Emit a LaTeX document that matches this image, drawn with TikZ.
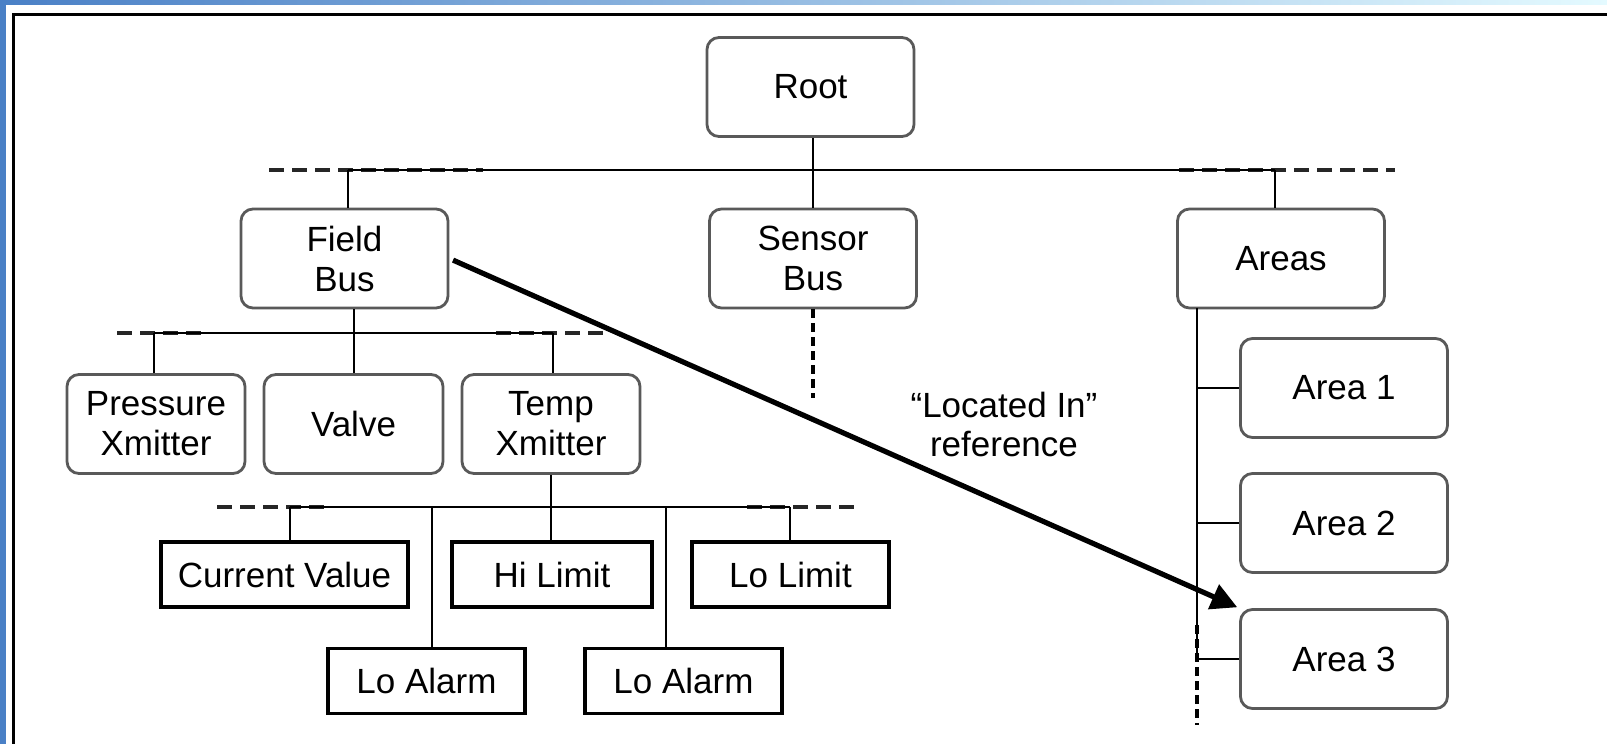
\documentclass[tikz,border=0pt]{standalone}
\usepackage{fontspec}
\setmainfont{Liberation Sans}
\usetikzlibrary{arrows.meta,calc}
\definecolor{bluea}{RGB}{74,128,198}
\definecolor{blueb}{RGB}{140,192,250}
\definecolor{bluec}{RGB}{228,250,255}
\begin{document}
\begin{tikzpicture}[x=0.5pt,y=-0.5pt,
  rbox/.style={draw=black!65, line width=1.4pt, rounded corners=6pt, fill=white, inner sep=0pt,
    font=\fontsize{17.5}{20}\selectfont, align=center, minimum width=103.5pt, minimum height=49.5pt},
  sbox/.style={draw=black, line width=1.7pt, fill=white, inner sep=0pt,
    font=\fontsize{17.5}{20}\selectfont, minimum height=32.5pt},
  conn/.style={line width=1.4pt},
  dashbus/.style={line width=2pt, black!85, dash pattern=on 7.5pt off 4pt},
  dashv/.style={line width=1.8pt, dash pattern=on 4.5pt off 2.5pt},
  refarrow/.style={line width=2.6pt, -{Triangle[length=13pt,width=13pt]}}]
\useasboundingbox (0,0) rectangle (1607,744);
% window frame
\fill[white] (0,0) rectangle (1607,744);
\shade[left color=bluea, middle color=blueb, right color=bluec] (0,0) rectangle (1607,4);
\fill[bluea] (0,0) rectangle (6,744);
\draw[line width=1.5pt] (13.5,744) -- (13.5,14.5) -- (1607,14.5);

% nodes
\node[rbox] (root) at (810.5,87) {Root};
\node[rbox] (field) at (344.5,258.5) {Field\\Bus};
\node[rbox] (sensor) at (813,258.5) {Sensor\\Bus};
\node[rbox] (areas) at (1281,258.5) {Areas};
\node[rbox] (area1) at (1344,388) {Area 1};
\node[rbox] (area2) at (1344,523) {Area 2};
\node[rbox] (area3) at (1344,659) {Area 3};
\node[rbox, minimum width=89pt] (press) at (156,424) {Pressure\\Xmitter};
\node[rbox, minimum width=89.5pt] (valve) at (353.5,424) {Valve};
\node[rbox, minimum width=89pt] (temp) at (551,424) {Temp\\Xmitter};
\node[sbox, minimum width=123.5pt] (cur) at (284.5,574.5) {Current Value};
\node[sbox, minimum width=100pt] (hi) at (552,574.5) {Hi Limit};
\node[sbox, minimum width=98.5pt] (lo) at (790.5,574.5) {Lo Limit};
\node[sbox, minimum width=98.5pt] (la1) at (426.5,681) {Lo Alarm};
\node[sbox, minimum width=98.5pt] (la2) at (683.5,681) {Lo Alarm};
\node[align=center, font=\fontsize{17.5}{19.5}\selectfont] (lbl) at (1004,424) {“Located In”\\reference};

% level 1 bus
\coordinate (b1f) at (348,170);
\coordinate (b1r) at (813,170);
\coordinate (b1a) at (1275,170);
\draw[dashbus] (269,170) -- (483,170);
\draw[dashbus] (1179,170) -- (1395,170);
\draw[conn] (b1f) -- (b1a);
\draw[conn] (root.south -| b1r) -- (b1r) -- (sensor.north -| b1r);
\draw[conn] (b1f) -- (field.north -| b1f);
\draw[conn] (b1a) -- (areas.north -| b1a);
\coordinate (sd) at (813,398);
\draw[dashv] (sensor.south -| sd) -- (sd);

% level 2 bus
\coordinate (b2p) at (154,333);
\coordinate (b2v) at (354,333);
\coordinate (b2t) at (553,333);
\draw[dashbus] (117,333) -- (201,333);
\draw[dashbus] (496,333) -- (603,333);
\draw[conn] (b2p) -- (b2t);
\draw[conn] (field.south -| b2v) -- (b2v);
\draw[conn] (b2p) -- (press.north -| b2p);
\draw[conn] (b2v) -- (valve.north -| b2v);
\draw[conn] (b2t) -- (temp.north -| b2t);

% level 3 bus
\coordinate (b3c) at (290,507);
\coordinate (b3a) at (432,507);
\coordinate (b3h) at (551,507);
\coordinate (b3b) at (666,507);
\coordinate (b3l) at (790,507);
\draw[dashbus] (217,507) -- (325,507);
\draw[dashbus] (747,507) -- (856,507);
\draw[conn] (b3c) -- (b3l);
\draw[conn] (temp.south -| b3h) -- (b3h) -- (hi.north -| b3h);
\draw[conn] (b3c) -- (cur.north -| b3c);
\draw[conn] (b3l) -- (lo.north -| b3l);
\draw[conn] (b3a) -- (la1.north -| b3a);
\draw[conn] (b3b) -- (la2.north -| b3b);

% areas spine
\coordinate (sp) at (1197,308);
\coordinate (spd) at (1197,625);
\coordinate (spe) at (1197,725);
\draw[conn] (sp) -- (area3.west -| sp);
\draw[dashv] (spd) -- (spe);
\draw[conn] (area1.west -| sp) -- (area1.west);
\draw[conn] (area2.west -| sp) -- (area2.west);
\draw[conn] (area3.west -| sp) -- (area3.west);

% reference arrow
\draw[refarrow, shorten <=2pt, shorten >=1pt] (field.east) -- (area3.north west);
\end{tikzpicture}
\end{document}
